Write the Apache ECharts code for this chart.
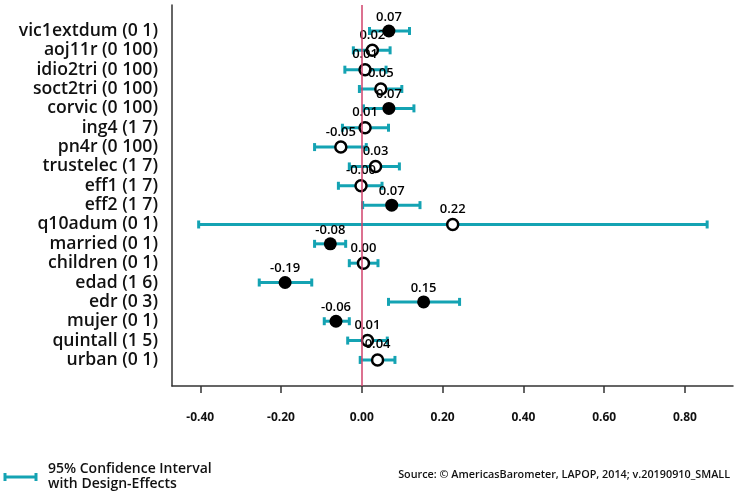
<!DOCTYPE html>
<html>
<head>
<meta charset="utf-8">
<script src="https://cdn.jsdelivr.net/npm/echarts@6/dist/echarts.min.js"></script>
<style>html,body{margin:0;padding:0;background:#fff}#c{width:735px;height:499px}</style>
</head>
<body>
<div id="c"></div>
<script>
const categories = ['vic1extdum (0 1)','aoj11r (0 100)','idio2tri (0 100)','soct2tri (0 100)','corvic (0 100)','ing4 (1 7)','pn4r (0 100)','trustelec (1 7)','eff1 (1 7)','eff2 (1 7)','q10adum (0 1)','married (0 1)','children (0 1)','edad (1 6)','edr (0 3)','mujer (0 1)','quintall (1 5)','urban (0 1)'];
const coef   = [0.067, 0.026, 0.008, 0.047, 0.067, 0.008, -0.052, 0.034, -0.002, 0.074, 0.225, -0.078, 0.004, -0.190, 0.153, -0.064, 0.014, 0.039];
const lower  = [0.019, -0.021, -0.042, -0.006, 0.004, -0.048, -0.117, -0.031, -0.058, 0.002, -0.404, -0.117, -0.031, -0.254, 0.066, -0.093, -0.035, -0.004];
const upper  = [0.118, 0.070, 0.060, 0.099, 0.129, 0.066, 0.011, 0.093, 0.050, 0.144, 0.855, -0.040, 0.040, -0.124, 0.242, -0.031, 0.063, 0.082];
const labels = ['0.07','0.02','0.01','0.05','0.07','0.01','-0.05','0.03','-0.00','0.07','0.22','-0.08','0.00','-0.19','0.15','-0.06','0.01','0.04'];
const significant = [true,false,false,false,true,false,false,false,false,true,false,true,false,true,true,true,false,false];
const xTicks = [-0.4,-0.2,0,0.2,0.4,0.6,0.8];

const TEAL = '#14a3b3';
const FONT = 'Open Sans';
const XMIN = -0.47, XMAX = 0.919;

const ciData = categories.map((c,i)=>[lower[i], upper[i], i]);
const filled = [], open = [];
categories.forEach((c,i)=>{ (significant[i]?filled:open).push({value:[coef[i], i], lab: labels[i]}); });

const labelCfg = {show:true, position:'top', distance:1, fontFamily:FONT, fontSize:13, fontWeight:600, color:'#000', formatter:p=>p.data.lab};

const chart = echarts.init(document.getElementById('c'), null, {renderer:'canvas'});
chart.setOption({
  animation:false,
  grid:[
    {left:172, right:2, top:5, bottom:113},
    {left:172, right:2, top:21.3, height:348.3}
  ],
  xAxis:[
    {gridIndex:0, type:'value', min:XMIN, max:XMAX, splitLine:{show:false},
     axisLine:{show:true, onZero:false, lineStyle:{color:'#333', width:1.5}},
     axisTick:{show:true, length:7, customValues:xTicks, lineStyle:{color:'#333', width:1.5}},
     axisLabel:{show:true, customValues:xTicks, margin:26, fontFamily:FONT, fontSize:12, fontWeight:'bold', color:'#111', formatter:v=>v.toFixed(2)}},
    {gridIndex:1, type:'value', min:XMIN, max:XMAX, show:false}
  ],
  yAxis:[
    {gridIndex:0, type:'value', min:0, max:1, splitLine:{show:false}, axisLabel:{show:false}, axisTick:{show:false},
     axisLine:{show:true, onZero:false, lineStyle:{color:'#333', width:1.5}}},
    {gridIndex:1, type:'category', inverse:true, data:categories, axisLine:{show:false}, axisTick:{show:false},
     axisLabel:{interval:0, margin:14, fontFamily:FONT, fontSize:17.6, fontWeight:600, color:'#111'}}
  ],
  series:[
    {type:'line', xAxisIndex:0, yAxisIndex:0, data:[], silent:true,
     markLine:{symbol:'none', silent:true, label:{show:false}, lineStyle:{color:'#d0426b', width:1.5, type:'solid'}, data:[{xAxis:0}]}},
    {type:'custom', xAxisIndex:1, yAxisIndex:1, data:ciData, z:2,
     renderItem:(params, api)=>{
       const a = api.coord([api.value(0), api.value(2)]);
       const b = api.coord([api.value(1), api.value(2)]);
       const h = 4;
       const st = {stroke:TEAL, lineWidth:3};
       return {type:'group', children:[
         {type:'line', shape:{x1:a[0], y1:a[1], x2:b[0], y2:b[1]}, style:st},
         {type:'line', shape:{x1:a[0], y1:a[1]-h, x2:a[0], y2:a[1]+h}, style:st},
         {type:'line', shape:{x1:b[0], y1:b[1]-h, x2:b[0], y2:b[1]+h}, style:st}
       ]};
     }},
    {type:'scatter', xAxisIndex:1, yAxisIndex:1, data:filled, symbol:'circle', symbolSize:13, z:3,
     itemStyle:{color:'#000', opacity:1}, label:labelCfg},
    {type:'scatter', xAxisIndex:1, yAxisIndex:1, data:open, symbol:'circle', symbolSize:11, z:3,
     itemStyle:{color:'#fff', borderColor:'#000', borderWidth:2.5, opacity:1}, label:Object.assign({}, labelCfg, {distance:2})}
  ],
  graphic:[
    {type:'line', shape:{x1:5, y1:477, x2:36, y2:477}, style:{stroke:TEAL, lineWidth:3}},
    {type:'line', shape:{x1:5, y1:473, x2:5, y2:481}, style:{stroke:TEAL, lineWidth:3}},
    {type:'line', shape:{x1:36, y1:473, x2:36, y2:481}, style:{stroke:TEAL, lineWidth:3}},
    {type:'text', left:48, top:462, style:{text:'95% Confidence Interval\nwith Design-Effects', font:'600 14px "Open Sans"', fill:'#111', lineHeight:15}},
    {type:'text', right:5, top:469, style:{text:'Source: \u00A9 AmericasBarometer, LAPOP, 2014; v.20190910_SMALL', font:'600 10.8px "Open Sans"', fill:'#111'}}
  ]
});
</script>
</body>
</html>
